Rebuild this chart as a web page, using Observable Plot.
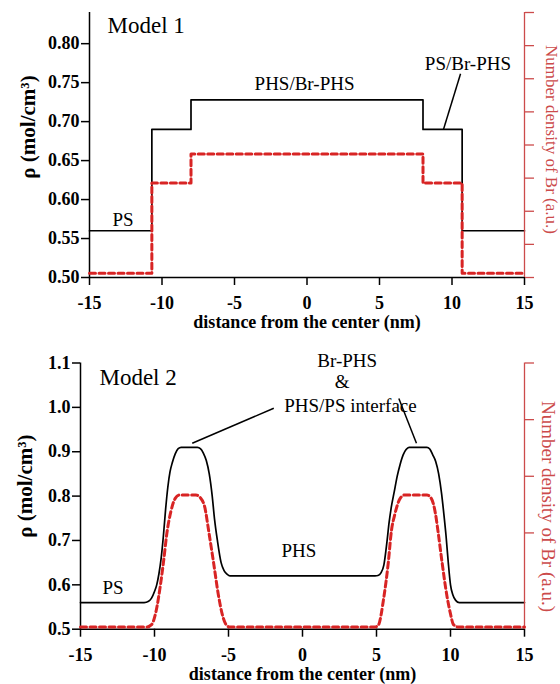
<!DOCTYPE html>
<html>
<head>
<meta charset="utf-8">
<script src="https://cdn.jsdelivr.net/npm/d3@7"></script>
<script src="https://cdn.jsdelivr.net/npm/@observablehq/plot@0.6"></script>
<style>
  html, body { margin: 0; padding: 0; background: #fff; }
  #chart { position: relative; width: 560px; }
  .panel { position: relative; width: 560px; }
  .panel svg { display: block; }
  .panel .overlay { position: absolute; left: 0; top: 0; }
</style>
</head>
<body>
<div id="chart"></div>
<script>
// ---------- data ----------
const xTicks = [-15, -10, -5, 0, 5, 10, 15];
const xTitle = "distance from the center (nm)";
const yTitle = "ρ (mol/cm³)";
const brTitle = "Number density of Br (a.u.)";

// Model 1 (step profiles)
const m1Edges = [-15, -10.7, -8, 8, 10.7, 15];
const m1Rho   = [0.56, 0.69, 0.728, 0.69, 0.56, 0.56];
const m1Br    = [0.13, 2.85, 3.73, 2.85, 0.13, 0.13];
const rho1Ticks = [0.50, 0.55, 0.60, 0.65, 0.70, 0.75, 0.80];
const br1Ticks  = [0, 1, 2, 3, 4, 5, 6, 7, 8];

// Model 2 (smooth profiles)
const m2RhoX = [-15, -10.7, -10.4, -10.2, -10.0, -9.85, -9.7, -9.55, -9.4, -9.25, -9.1, -8.95, -8.8, -8.6, -8.4, -8.2,
                -7.1, -6.9, -6.7, -6.5, -6.3, -6.1, -5.95, -5.75, -5.5, -5.3, -5.1, -4.9,
                4.9, 5.1, 5.3, 5.5, 5.7, 5.85, 6.0, 6.2, 6.4, 6.6, 6.8, 7.0, 7.2,
                8.4, 8.6, 8.8, 9.0, 9.2, 9.4, 9.55, 9.7, 9.85, 10.0, 10.15, 10.35, 10.6, 15];
const m2Rho  = [0.56, 0.56, 0.563, 0.57, 0.585, 0.60, 0.625, 0.66, 0.71, 0.77, 0.82, 0.855, 0.875, 0.895, 0.907, 0.91,
                0.91, 0.907, 0.897, 0.88, 0.85, 0.80, 0.75, 0.70, 0.65, 0.632, 0.624, 0.62,
                0.62, 0.621, 0.627, 0.645, 0.695, 0.74, 0.775, 0.81, 0.845, 0.872, 0.893, 0.905, 0.91,
                0.91, 0.906, 0.893, 0.878, 0.85, 0.805, 0.76, 0.71, 0.65, 0.60, 0.578, 0.565, 0.56, 0.56];
const m2BrX  = [-15, -10.5, -10.2, -9.9, -9.6, -9.4, -9.15, -8.9, -8.6, -8.3, -7.2, -6.9, -6.6, -6.33, -6.0, -5.66, -5.4, -5.1, -4.9,
                4.9, 5.1, 5.5, 5.79, 6.01, 6.24, 6.6, 6.9, 8.4, 8.7, 8.99, 9.15, 9.44, 9.77, 10.0, 10.2, 10.5, 15];
const m2Br   = [0.34, 0.34, 0.38, 0.61, 1.08, 1.47, 2.02, 2.37, 2.61, 2.67, 2.67, 2.62, 2.45, 2.02, 1.46, 0.87, 0.54, 0.36, 0.34,
                0.34, 0.36, 0.87, 1.46, 2.04, 2.33, 2.61, 2.67, 2.67, 2.61, 2.33, 2.04, 1.46, 0.87, 0.57, 0.38, 0.34, 0.34];
const rho2Ticks = [0.5, 0.6, 0.7, 0.8, 0.9, 1.0, 1.1];
const br2Ticks  = [2, 3, 4, 5];

// annotations (data coordinates)
const titles1 = [{text: "Model 1", x: -13.76, y: 0.8236}];
const labels1 = [
  {text: "PS", x: -12.69, y: 0.5744},
  {text: "PHS/Br-PHS", x: -0.17, y: 0.7485},
  {text: "PS/Br-PHS", x: 11.1, y: 0.7745}
];
const leaders1 = [{x1: 10.59, y1: 0.7615, x2: 9.41, y2: 0.69}];

const titles2 = [{text: "Model 2", x: -13.72, y: 1.0664}];
const labels2 = [
  {text: "PS", x: -12.8, y: 0.594},
  {text: "PHS", x: -0.24, y: 0.676},
  {text: "Br-PHS", x: 3.02, y: 1.105},
  {text: "&", x: 2.68, y: 1.0565},
  {text: "PHS/PS interface", x: 3.24, y: 1.0024}
];
const leaders2 = [
  {x1: -1.94, y1: 0.998, x2: -7.45, y2: 0.919},
  {x1: 6.51, y1: 1.02, x2: 7.70, y2: 0.919}
];

// ---------- drawing ----------
const FONT = "'Liberation Serif', 'Times New Roman', serif";
const RED = "#d82424";
const RED_AXIS = "#cc4b4b";

function panel(o) {
  const common = {
    width: 560, height: o.height,
    marginLeft: o.ml, marginRight: 36, marginTop: o.mt, marginBottom: o.mb
  };
  const main = Plot.plot({
    ...common,
    style: {fontFamily: FONT, fontSize: "18px", fontWeight: "bold", background: "transparent", overflow: "visible", color: "#000"},
    x: {domain: [-15, 15]},
    y: {domain: o.yDomain},
    marks: [
      Plot.axisX(xTicks, {tickSize: 8, tickPadding: 11, tickFormat: d => String(d), strokeWidth: 1.5, label: null, fontSize: 18}),
      Plot.axisY(o.yTicks, {tickSize: 8, tickPadding: 2, tickFormat: o.yFmt, strokeWidth: 1.5, label: null, fontSize: 18}),
      Plot.ruleX([-15], {strokeWidth: 1.5}),
      Plot.ruleY([o.yDomain[0]], {strokeWidth: 1.5}),
      Plot.line(o.rhoY, {x: o.rhoX, y: o.rhoY, curve: o.curve, stroke: "#000", strokeWidth: 1.7}),
      Plot.text([xTitle], {text: d => d, frameAnchor: "bottom", dy: 45, textAnchor: "middle", lineAnchor: "middle", fontSize: 18, fontWeight: "bold"}),
      Plot.text([yTitle], {text: d => d, frameAnchor: "left", rotate: -90, dx: o.ytDx, dy: o.ytDy, textAnchor: "middle", lineAnchor: "middle", fontSize: 21, fontWeight: "bold"}),
      Plot.text(o.titles, {x: "x", y: "y", text: "text", textAnchor: "start", lineAnchor: "middle", fontSize: 23, fontWeight: "normal"}),
      Plot.text(o.labels, {x: "x", y: "y", text: "text", textAnchor: "middle", lineAnchor: "middle", fontSize: 19, fontWeight: "normal"}),
      Plot.link(o.leaders, {x1: "x1", y1: "y1", x2: "x2", y2: "y2", stroke: "#000", strokeWidth: 1.5})
    ]
  });
  const over = Plot.plot({
    ...common,
    style: {fontFamily: FONT, fontSize: "18px", background: "transparent", overflow: "visible"},
    x: {domain: [-15, 15], axis: null},
    y: {domain: o.brDomain},
    marks: [
      Plot.ruleX([15], {stroke: RED_AXIS, strokeWidth: 1.3}),
      Plot.axisY(o.brTicks, {anchor: "right", tickSize: 9, tickFormat: () => "", stroke: RED_AXIS, strokeWidth: 1.3, label: null}),
      Plot.line(o.brY, {x: o.brX, y: o.brY, curve: o.curve, stroke: RED, strokeWidth: 3, strokeDasharray: "6,3.5"}),
      Plot.text([brTitle], {text: d => d, frameAnchor: "right", rotate: 90, dx: o.btDx, dy: o.btDy, textAnchor: "middle", lineAnchor: "middle", fill: RED_AXIS, fontSize: o.btSize, fontWeight: "normal"})
    ]
  });
  over.classList.add("overlay");
  const div = document.createElement("div");
  div.className = "panel";
  div.style.height = o.height + "px";
  div.append(main, over);
  return div;
}

const chart = document.getElementById("chart");
chart.append(panel({
  height: 340, ml: 89, mt: 12, mb: 63,
  yDomain: [0.5, 0.84], yTicks: rho1Ticks, yFmt: d3.format(".2f"),
  rhoX: m1Edges, rhoY: m1Rho, brX: m1Edges, brY: m1Br, curve: "step-after",
  brDomain: [0, 8], brTicks: br1Ticks,
  titles: titles1, labels: labels1, leaders: leaders1,
  ytDx: -61, ytDy: -18, btDx: 27, btDy: -5.5, btSize: 17
}));
chart.append(panel({
  height: 344, ml: 80, mt: 22.5, mb: 55.3,
  yDomain: [0.5, 1.1], yTicks: rho2Ticks, yFmt: d3.format(".1f"),
  rhoX: m2RhoX, rhoY: m2Rho, brX: m2BrX, brY: m2Br, curve: "monotone-x",
  brDomain: [0.3, 5], brTicks: br2Ticks,
  titles: titles2, labels: labels2, leaders: leaders2,
  ytDx: -55, ytDy: -10, btDx: 24, btDy: 10.4, btSize: 19
}));
</script>
</body>
</html>
